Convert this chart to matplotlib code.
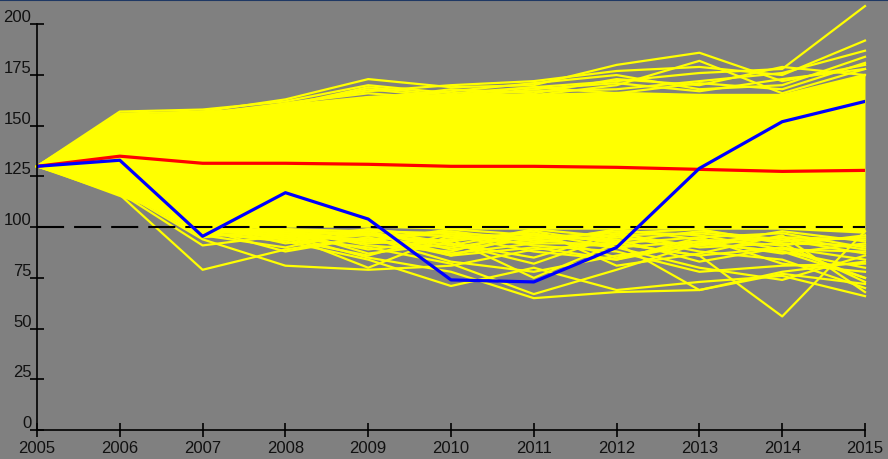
import matplotlib.pyplot as plt
from matplotlib.lines import Line2D

years = list(range(2005, 2016))

# dense part of the simulated fan
band_hi = [130, 156, 157, 161, 165, 166, 166, 167, 166, 166, 176]
band_lo = [130, 115, 101, 100, 100, 99, 99, 99, 99, 99, 97]

# individual paths that stick out above the band
upper_paths = [
    [130, 157, 158, 162, 170, 166, 169, 172, 176, 178, 209],
    [130, 156, 157, 163, 173, 169, 170, 180, 186, 172, 180],
    [130, 155, 156, 161, 167, 170, 172, 177, 179, 175, 192],
    [130, 154, 155, 160, 169, 165, 167, 168, 172, 176, 187],
    [130, 153, 157, 158, 164, 167, 171, 175, 168, 170, 184],
    [130, 152, 154, 161, 166, 163, 165, 170, 182, 166, 178],
    [130, 154, 156, 159, 163, 168, 166, 173, 170, 179, 175],
    [130, 150, 153, 157, 162, 165, 169, 166, 171, 168, 181],
    [130, 151, 155, 160, 168, 164, 168, 171, 167, 173, 178],
]

# individual paths below the band
lower_paths = [
    [130, 116, 79, 89, 95, 86, 90, 84, 92, 88, 80],
    [130, 118, 94, 81, 79, 81, 89, 92, 86, 90, 84],
    [130, 117, 91, 96, 85, 78, 65, 68, 69, 77, 72],
    [130, 119, 97, 93, 84, 71, 80, 69, 73, 76, 66],
    [130, 120, 99, 95, 90, 82, 67, 79, 92, 88, 75],
    [130, 121, 100, 97, 92, 94, 75, 92, 86, 56, 98],
    [130, 122, 101, 92, 97, 87, 92, 92, 69, 78, 83],
    [130, 119, 95, 99, 87, 92, 82, 96, 88, 84, 70],
    [130, 123, 100, 96, 80, 96, 88, 84, 95, 82, 78],
    [130, 120, 97, 94, 98, 89, 94, 90, 80, 74, 86],
    [130, 122, 99, 88, 95, 83, 78, 86, 91, 95, 89],
    [130, 124, 102, 97, 93, 90, 96, 94, 83, 90, 75],
    [130, 121, 101, 94, 86, 97, 91, 88, 78, 81, 82],
    [130, 125, 103, 98, 97, 86, 97, 85, 93, 87, 92],
    [130, 123, 96, 90, 99, 92, 85, 97, 90, 92, 73],
    [130, 118, 98, 99, 91, 88, 99, 81, 87, 96, 68],
    [130, 124, 99, 96, 94, 98, 93, 96, 97, 93, 95],
    [130, 122, 98, 99, 96, 93, 98, 92, 95, 97, 90],
    [130, 125, 102, 95, 99, 95, 92, 99, 94, 91, 96],
    [130, 121, 97, 98, 93, 99, 96, 93, 98, 94, 87],
    [130, 123, 101, 97, 97, 91, 99, 95, 91, 98, 93],
    [130, 124, 100, 94, 96, 96, 94, 98, 96, 89, 88],
    [130, 120, 96, 97, 89, 94, 97, 90, 93, 95, 94],
    [130, 122, 103, 99, 98, 97, 95, 97, 99, 92, 91],
]

median = [130, 135, 131.5, 131.5, 131, 130, 130, 129.5, 128.5, 127.5, 128]
actual = [130, 133, 95.5, 117, 104, 74, 73, 90, 129, 152, 162]

y_ticks = [0, 25, 50, 75, 100, 125, 150, 175, 200]

plt.rcParams['font.family'] = ['Liberation Sans', 'DejaVu Sans']

fig = plt.figure(figsize=(8.88, 4.6), dpi=100, facecolor='#808080')
ax = fig.add_axes([37 / 888, 29 / 460, (865 - 37) / 888, 430 / 460])
ax.set_facecolor('#808080')

ax.fill_between(years, band_lo, band_hi, color='#ffff00', lw=0, zorder=2)
for p in upper_paths + lower_paths:
    ax.plot(years, p, color='#ffff00', lw=1.6, zorder=2, clip_on=False)

ax.axhline(100, color='black', lw=1.5, dashes=(13, 4.8), zorder=3)
ax.plot(years, median, color='#ff0000', lw=2.3, zorder=4)
ax.plot(years, actual, color='#0000ff', lw=2.3, zorder=5)

ax.set_xlim(2005, 2015)
ax.set_ylim(0, 212)
ax.set_xticks(years)
ax.set_yticks(y_ticks)
ax.set_yticklabels([str(v) for v in y_ticks], va='bottom')

for s in ['top', 'right']:
    ax.spines[s].set_visible(False)
ax.spines['left'].set_bounds(0, 200)
for s in ['left', 'bottom']:
    ax.spines[s].set_color('black')
    ax.spines[s].set_linewidth(1.2)
    ax.spines[s].set_zorder(6)

ax.tick_params(axis='both', direction='inout', length=10, width=1.2,
               colors='black', labelcolor='#111111', labelsize=12)
ax.tick_params(axis='y', pad=-1)
ax.tick_params(axis='x', pad=2)

# thin frame line along the top edge
fig.add_artist(Line2D([0, 1], [0.998, 0.998], transform=fig.transFigure,
                      color='#1f3864', lw=1.5))

fig.savefig('out.png', dpi=100, facecolor=fig.get_facecolor())
